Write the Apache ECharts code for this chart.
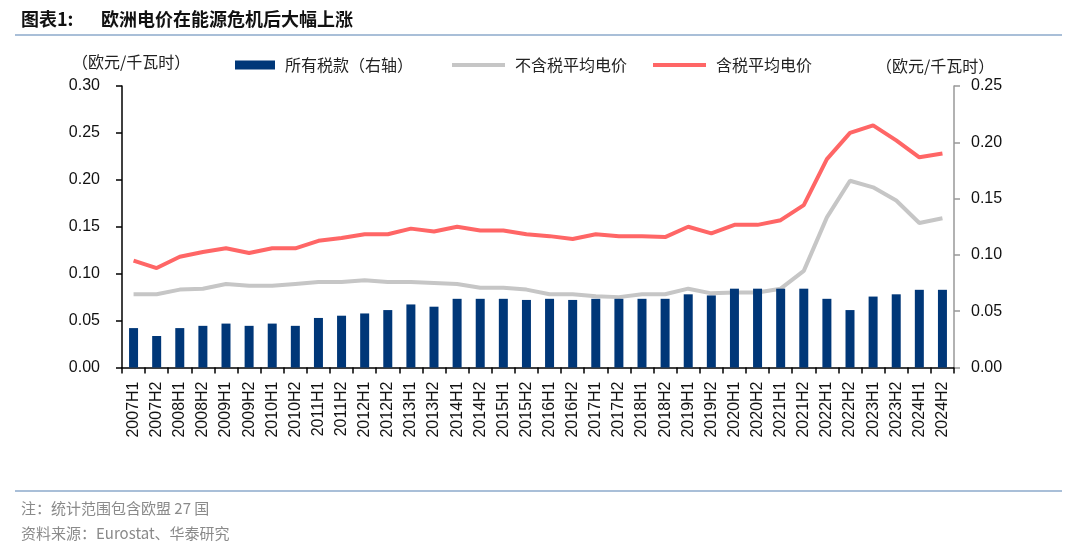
<!DOCTYPE html>
<html>
<head>
<meta charset="utf-8">
<script src="https://cdn.jsdelivr.net/npm/echarts@6/dist/echarts.min.js"></script>
<style>
html,body{margin:0;padding:0;background:#fff;}
#c{width:1080px;height:549px;}
</style>
</head>
<body>
<div id="c"></div>
<script>
const categories = ['2007H1','2007H2','2008H1','2008H2','2009H1','2009H2','2010H1','2010H2','2011H1','2011H2','2012H1','2012H2','2013H1','2013H2','2014H1','2014H2','2015H1','2015H2','2016H1','2016H2','2017H1','2017H2','2018H1','2018H2','2019H1','2019H2','2020H1','2020H2','2021H1','2021H2','2022H1','2022H2','2023H1','2023H2','2024H1','2024H2'];
const taxes = [0.035,0.028,0.035,0.037,0.039,0.037,0.039,0.037,0.044,0.046,0.048,0.051,0.056,0.054,0.061,0.061,0.061,0.060,0.061,0.060,0.061,0.061,0.061,0.061,0.065,0.064,0.070,0.070,0.070,0.070,0.061,0.051,0.063,0.065,0.069,0.069];
const priceExTax = [0.078,0.078,0.083,0.084,0.089,0.087,0.087,0.089,0.091,0.091,0.093,0.091,0.091,0.090,0.089,0.085,0.085,0.083,0.078,0.078,0.076,0.075,0.078,0.078,0.084,0.079,0.080,0.080,0.084,0.103,0.160,0.199,0.192,0.178,0.154,0.159];
const priceInclTax = [0.114,0.106,0.118,0.123,0.127,0.122,0.127,0.127,0.135,0.138,0.142,0.142,0.148,0.145,0.150,0.146,0.146,0.142,0.140,0.137,0.142,0.140,0.140,0.139,0.150,0.143,0.152,0.152,0.157,0.173,0.222,0.250,0.258,0.242,0.224,0.228];
const leftTicks = [0,0.05,0.10,0.15,0.20,0.25,0.30];
const rightTicks = [0,0.05,0.10,0.15,0.20,0.25];

const chart = echarts.init(document.getElementById('c'));
const cjk = '"Noto Sans CJK SC", "Noto Sans", sans-serif';
const latin = '"Liberation Sans", Arial, sans-serif';
const legendText = {fontFamily: cjk, fontSize: 16, color: '#222', padding: [0, 0, 0, 5]};
chart.setOption({
  animation: false,
  backgroundColor: '#fff',
  title: [
    {text: '图表1:', left: 16, top: 5,
     textStyle: {fontFamily: cjk, fontSize: 18, fontWeight: 'bold', color: '#111'}},
    {text: '欧洲电价在能源危机后大幅上涨', left: 96, top: 5,
     textStyle: {fontFamily: cjk, fontSize: 18, fontWeight: 'bold', color: '#111'}},
    {text: '注：统计范围包含欧盟 27 国', left: 16, top: 496,
     textStyle: {fontFamily: cjk, fontSize: 15, fontWeight: 'normal', color: '#8a8a8a'}},
    {text: '资料来源：Eurostat、华泰研究', left: 16, top: 521,
     textStyle: {fontFamily: cjk, fontSize: 15, fontWeight: 'normal', color: '#8a8a8a'}}
  ],
  graphic: [
    {type: 'line', shape: {x1: 15, y1: 35, x2: 1062, y2: 35}, style: {stroke: '#a9bfd8', lineWidth: 2}},
    {type: 'line', shape: {x1: 15, y1: 491, x2: 1062, y2: 491}, style: {stroke: '#a9bfd8', lineWidth: 2}},
    {type: 'text', left: 72, top: 54, style: {text: '（欧元/千瓦时）', font: '16px ' + cjk, fill: '#222'}},
    {type: 'text', left: 876, top: 58, style: {text: '（欧元/千瓦时）', font: '16px ' + cjk, fill: '#222'}}
  ],
  legend: [
    {data: [{name: '所有税款（右轴）', icon: 'rect'}], left: 230, top: 52, itemWidth: 40, itemHeight: 9,
     textStyle: legendText},
    {data: [{name: '不含税平均电价', icon: 'rect'}], left: 447, top: 52, itemWidth: 53, itemHeight: 4,
     textStyle: legendText},
    {data: [{name: '含税平均电价', icon: 'rect'}], left: 648, top: 52, itemWidth: 53, itemHeight: 4,
     textStyle: legendText}
  ],
  grid: {left: 122, right: 126, top: 86, bottom: 181.5, containLabel: false},
  xAxis: {
    type: 'category', data: categories, boundaryGap: true,
    axisLine: {lineStyle: {color: '#000', width: 1.5}},
    axisTick: {show: true, length: 6, lineStyle: {color: '#000', width: 1.5}, alignWithLabel: false},
    axisLabel: {rotate: 90, interval: 0, margin: 14, fontFamily: latin, fontSize: 16, color: '#111'},
    splitLine: {show: false}
  },
  yAxis: [
    {type: 'value', min: 0, max: 0.30, interval: 0.05, position: 'left',
     axisLine: {show: true, lineStyle: {color: '#000', width: 1.5}},
     axisTick: {show: true, length: 6, lineStyle: {color: '#000', width: 1.5}},
     axisLabel: {margin: 22, fontFamily: latin, fontSize: 16, color: '#111',
       formatter: v => leftTicks.find(t => Math.abs(t - v) < 1e-9).toFixed(2)},
     splitLine: {show: false}},
    {type: 'value', min: 0, max: 0.25, interval: 0.05, position: 'right',
     axisLine: {show: true, lineStyle: {color: '#999', width: 1.5}},
     axisTick: {show: true, length: 6, lineStyle: {color: '#999', width: 1.5}},
     axisLabel: {margin: 17, fontFamily: latin, fontSize: 16, color: '#111',
       formatter: v => rightTicks.find(t => Math.abs(t - v) < 1e-9).toFixed(2)},
     splitLine: {show: false}}
  ],
  series: [
    {name: '所有税款（右轴）', type: 'bar', yAxisIndex: 1, data: taxes, barWidth: 9, z: 4,
     itemStyle: {color: '#003778'}},
    {name: '不含税平均电价', type: 'line', yAxisIndex: 0, data: priceExTax, symbol: 'none', z: 2,
     lineStyle: {color: '#c6c6c6', width: 4}, itemStyle: {color: '#c6c6c6'}},
    {name: '含税平均电价', type: 'line', yAxisIndex: 0, data: priceInclTax, symbol: 'none', z: 3,
     lineStyle: {color: '#ff6666', width: 4}, itemStyle: {color: '#ff6666'}}
  ]
});
</script>
</body>
</html>
